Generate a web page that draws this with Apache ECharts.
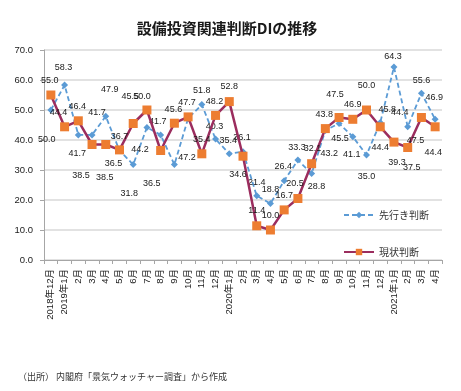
<!DOCTYPE html>
<html><head><meta charset="utf-8">
<script src="https://cdn.jsdelivr.net/npm/echarts@6/dist/echarts.min.js"></script>
<style>html,body{margin:0;padding:0;background:#fff}#c{width:461px;height:391px}</style>
</head><body><div id="c"></div>
<script>
const categories = ['2018年12月','2019年1月','2月','3月','4月','5月','6月','7月','8月','9月','10月','11月','12月',
  '2020年1月','2月','3月','4月','5月','6月','7月','8月','9月','10月','11月','12月','2021年1月','2月','3月','4月'];
const senkoValues = [50.0,58.3,41.7,41.7,47.9,36.5,31.8,44.2,41.7,31.8,47.2,51.8,40.3,35.4,36.1,21.4,18.8,26.4,33.3,28.8,43.2,45.5,41.1,35.0,45.8,64.3,44.4,55.6,46.9];
const genjoValues = [55.0,44.4,46.4,38.5,38.5,36.7,45.5,50.0,36.5,45.6,47.7,35.4,48.2,52.8,34.6,11.4,10.0,16.7,20.5,32.1,43.8,47.5,46.9,50.0,44.4,39.3,37.5,47.5,44.4];
const yTickValues = [0,10,20,30,40,50,60,70];
const seriesNames = ['先行き判断','現状判断'];
const titleText = '設備投資関連判断DIの推移';
const sourceText = '（出所） 内閣府「景気ウォッチャー調査」から作成';

// label placement (styling only)
const genjoLabelOffsets = [[-1,-14],[-6,-14],[-1,-14],[-11,31],[-1,33],[0,-13],[-3,-27],[-5,-13],[-9,33],[-1,-14],
  [-1,-14],[0,-14],[-1,-14],[0,-15],[-5,18],[0,-15],[0,-14],[0,-14],[-3,-15],[1,-15],[-1,-14],[-4,-23],[0,-15],[0,-24],
  [0,21],[3,20],[4,20],[-6,23],[-2,26]];
const senkoLabelOffsets = [[-4,30],[-1,-18],[-1,19],[5,-22],[4,-27],[-6,13],[-4,29],[-7,22],[-3,-13],null,
  [-1,39],[0,-14],[-1,-13],[-1,-13],[-1,-14],[0,-13],[0,-14],[-1,-14],[-1,-13],[5,13],[4,23],[1,15],[-1,18],[0,22],
  [7,-13],[-1,-11],[-8,-14],[0,-13],[-1,-22]];

const FONT = '"Liberation Sans","Noto Sans CJK JP",sans-serif';
function build(vals, offs){
  return vals.map((v,i)=>{
    const o = offs[i];
    if(!o) return {value:v, label:{show:false}};
    return {value:v, label:{offset:o}};
  });
}
const chart = echarts.init(document.getElementById('c'), null, {renderer:'canvas'});
const labelStyle = {show:true, position:'inside', align:'center', verticalAlign:'middle',
  fontSize:9, color:'#1a1a1a', fontFamily:FONT, formatter:p=>p.value.toFixed(1)};
chart.setOption({
  animation:false,
  backgroundColor:'#fff',
  title:[{text:titleText, left:222, textAlign:'center', top:16,
    textStyle:{fontSize:15, fontWeight:'bold', color:'#1a1a1a', fontFamily:'"Noto Sans CJK JP",sans-serif'}},
    {text:sourceText, left:13, top:367, textStyle:{fontSize:9, fontWeight:'normal', color:'#333', fontFamily:'"Noto Sans CJK JP",sans-serif'}}],
  grid:{left:44, right:19, top:50, bottom:131, containLabel:false},
  legend:[
    {data:[seriesNames[0]], left:338, top:205, itemWidth:30, itemHeight:8, itemGap:0,
      textStyle:{fontSize:10, color:'#333', fontFamily:'"Noto Sans CJK JP",sans-serif'}},
    {data:[seriesNames[1]], left:338, top:242, itemWidth:30, itemHeight:8, itemGap:0,
      textStyle:{fontSize:10, color:'#333', fontFamily:'"Noto Sans CJK JP",sans-serif'}}
  ],
  xAxis:{type:'category', data:categories, boundaryGap:true,
    axisLine:{lineStyle:{color:'#a6a6a6', width:1}},
    axisTick:{show:true, length:4, lineStyle:{color:'#a6a6a6'}, alignWithLabel:false},
    axisLabel:{interval:0, rotate:90, margin:9, fontSize:9.5, color:'#1a1a1a', fontFamily:FONT},
    splitLine:{show:false}},
  yAxis:{type:'value', min:yTickValues[0], max:yTickValues[yTickValues.length-1], interval:10,
    axisLine:{show:true, lineStyle:{color:'#a6a6a6', width:1}},
    axisTick:{show:true, length:4, lineStyle:{color:'#a6a6a6'}},
    axisLabel:{margin:11, fontSize:9.5, color:'#1a1a1a', fontFamily:FONT, formatter:v=>v.toFixed(1)},
    splitLine:{lineStyle:{color:'#d9d9d9', width:1.5}}},
  series:[
    {name:seriesNames[0], type:'line', data:build(senkoValues, senkoLabelOffsets),
      symbol:'diamond', symbolSize:7, showAllSymbol:true,
      lineStyle:{color:'#5b9bd5', width:1.8, type:[5,3]},
      itemStyle:{color:'#5b9bd5'}, label:labelStyle, z:2},
    {name:seriesNames[1], type:'line', data:build(genjoValues, genjoLabelOffsets),
      symbol:'rect', symbolSize:9, showAllSymbol:true,
      lineStyle:{color:'#9b2d5e', width:2.5},
      itemStyle:{color:'#ed7d31'}, label:labelStyle, z:3}
  ]
});
</script></body></html>
